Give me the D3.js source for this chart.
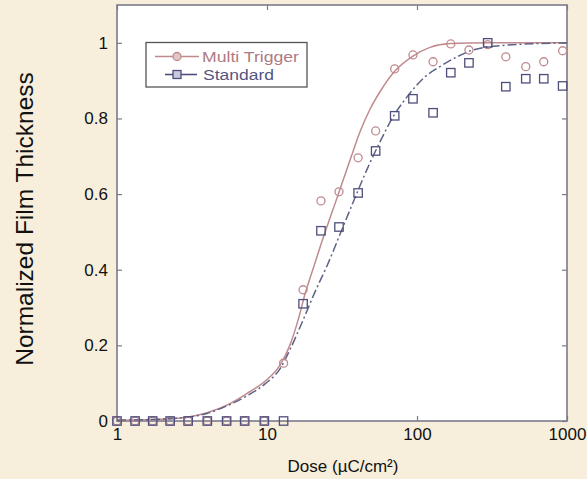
<!DOCTYPE html>
<html>
<head>
<meta charset="utf-8">
<script src="https://cdn.jsdelivr.net/npm/d3@7"></script>
<style>
  html, body { margin: 0; padding: 0; background: #f7efdc; }
  svg { display: block; }
  text { font-family: "Liberation Sans", Arial, Helvetica, sans-serif; }
</style>
</head>
<body>
<svg id="chart" width="587" height="479"></svg>
<script>
// ---- data ----
const doses = [1, 1.32, 1.73, 2.26, 2.98, 4.0, 5.38, 7.1, 9.6, 12.9, 17.4, 22.9, 30.2, 40.5, 53, 71, 94, 128, 168, 222, 296, 391, 531, 700, 935];
const multiTrigger = [0, 0, 0, 0, 0, 0, 0, 0, 0, 0.153, 0.347, 0.582, 0.606, 0.696, 0.767, 0.931, 0.968, 0.950, 0.997, 0.981, 0.995, 0.963, 0.937, 0.950, 0.979];
const standard = [0, 0, 0, 0, 0, 0, 0, 0, 0, 0, 0.310, 0.503, 0.513, 0.603, 0.714, 0.807, 0.852, 0.815, 0.921, 0.947, 1.0, 0.884, 0.905, 0.905, 0.886];

const multiFitDose = [1, 2.26, 3.98, 5.4, 7.3, 9.7, 12.3, 14.2, 16.2, 17.9, 20, 22.6, 29.3, 35.8, 41.7, 48.7, 56.5, 71, 94, 122, 166, 300, 1000];
const multiFitValue = [0.002, 0.006, 0.022, 0.042, 0.072, 0.105, 0.15, 0.2, 0.27, 0.335, 0.395, 0.46, 0.59, 0.69, 0.765, 0.825, 0.87, 0.925, 0.965, 0.988, 0.998, 1.0, 1.0];
const stdFitDose = [1, 2.26, 3.98, 5.4, 7.3, 9.7, 12.3, 14.2, 17.4, 21.2, 25.1, 32.1, 39.8, 48.6, 56.5, 69.2, 85.8, 113, 142, 185, 236, 374, 631, 1000];
const stdFitValue = [0.002, 0.006, 0.02, 0.04, 0.066, 0.098, 0.14, 0.188, 0.267, 0.347, 0.41, 0.513, 0.603, 0.683, 0.737, 0.804, 0.857, 0.91, 0.937, 0.963, 0.981, 0.993, 0.998, 1.0];

const xTicks = [1, 10, 100, 1000];
const xTickLabels = ["1", "10", "100", "1000"];
const yTicks = [0, 0.2, 0.4, 0.6, 0.8, 1];
const yTickLabels = ["0", "0.2", "0.4", "0.6", "0.8", "1"];
const seriesNames = ["Multi Trigger", "Standard"];

// ---- layout ----
const svg = d3.select("#chart");
const L = 117, R = 567, T = 5, B = 421;
const x = d3.scaleLog().domain([1, 1000]).range([L, R]);
const y = d3.scaleLinear().domain([0, 1.1]).range([B, T]);

const multiColor = "#c08a8e", multiText = "#b07a82";
const stdColor = "#4e4e7c", stdText = "#55557f";
const frameColor = "#7a7a8c";

// plot area
svg.append("rect").attr("x", L).attr("y", T).attr("width", R - L).attr("height", B - T)
  .attr("fill", "#ffffff");

// axes
const fontSize = 17;
const ax = svg.append("g").attr("transform", `translate(0,${B})`)
  .call(d3.axisBottom(x).tickValues(xTicks).tickFormat((d, i) => xTickLabels[i]).tickSizeInner(-5).tickSizeOuter(0).tickPadding(7));
const ay = svg.append("g").attr("transform", `translate(${L},0)`)
  .call(d3.axisLeft(y).tickValues(yTicks).tickFormat((d, i) => yTickLabels[i]).tickSizeInner(-5).tickSizeOuter(0).tickPadding(9));
const at = svg.append("g").attr("transform", `translate(0,${T})`)
  .call(d3.axisTop(x).tickValues(xTicks).tickFormat("").tickSizeInner(-5).tickSizeOuter(0));
const ar = svg.append("g").attr("transform", `translate(${R},0)`)
  .call(d3.axisRight(y).tickValues(yTicks).tickFormat("").tickSizeInner(-5).tickSizeOuter(0));
[ax, ay, at, ar].forEach(g => {
  g.select(".domain").remove();
  g.selectAll(".tick line").attr("stroke", frameColor).attr("stroke-width", 1.2);
  g.selectAll(".tick text").attr("fill", "#111").attr("font-size", fontSize)
    .style("font-family", '"Liberation Sans", Arial, sans-serif');
});

// frame
svg.append("rect").attr("x", L).attr("y", T).attr("width", R - L).attr("height", B - T)
  .attr("fill", "none").attr("stroke", frameColor).attr("stroke-width", 1.6);

// fit curves
const line = d3.line().x(d => x(d[0])).y(d => y(d[1])).curve(d3.curveMonotoneX);
svg.append("path").datum(multiFitDose.map((d, i) => [d, multiFitValue[i]]))
  .attr("d", line).attr("fill", "none").attr("stroke", multiColor).attr("stroke-width", 1.5);
svg.append("path").datum(stdFitDose.map((d, i) => [d, stdFitValue[i]]))
  .attr("d", line).attr("fill", "none").attr("stroke", "#5d6286").attr("stroke-width", 1.5)
  .attr("stroke-dasharray", "9,3,2,3");

// markers
const mData = doses.map((d, i) => [d, multiTrigger[i]]);
const sData = doses.map((d, i) => [d, standard[i]]);
svg.append("g").selectAll("circle").data(mData).join("circle")
  .attr("cx", d => x(d[0])).attr("cy", d => y(d[1])).attr("r", 4)
  .attr("fill", "none").attr("stroke", multiColor).attr("stroke-width", 1.3);
svg.append("g").selectAll("rect").data(sData).join("rect")
  .attr("x", d => x(d[0]) - 4.2).attr("y", d => y(d[1]) - 4.2).attr("width", 8.4).attr("height", 8.4)
  .attr("fill", "none").attr("stroke", stdColor).attr("stroke-width", 1.3);

// legend
const lg = svg.append("g");
lg.append("rect").attr("x", 146).attr("y", 42.5).attr("width", 161).attr("height", 44.5)
  .attr("fill", "#fff").attr("stroke", "#555").attr("stroke-width", 1.3);
lg.append("line").attr("x1", 155).attr("x2", 199).attr("y1", 56.5).attr("y2", 56.5)
  .attr("stroke", multiColor).attr("stroke-width", 1.6);
lg.append("circle").attr("cx", 177).attr("cy", 56.5).attr("r", 4)
  .attr("fill", "#e3c6c6").attr("stroke", multiColor).attr("stroke-width", 1.3);
lg.append("text").attr("x", 202).attr("y", 56.5).attr("dy", "0.36em").attr("font-size", 15.5)
  .attr("textLength", 97).attr("lengthAdjust", "spacingAndGlyphs")
  .attr("fill", multiText).text(seriesNames[0]);
lg.append("line").attr("x1", 165).attr("x2", 197).attr("y1", 74.5).attr("y2", 74.5)
  .attr("stroke", stdColor).attr("stroke-width", 1.6);
lg.append("rect").attr("x", 173).attr("y", 70.5).attr("width", 8).attr("height", 8)
  .attr("fill", "#c8c8dc").attr("stroke", stdColor).attr("stroke-width", 1.3);
lg.append("text").attr("x", 203).attr("y", 74.5).attr("dy", "0.36em").attr("font-size", 15.5)
  .attr("textLength", 71).attr("lengthAdjust", "spacingAndGlyphs")
  .attr("fill", stdText).text(seriesNames[1]);

// axis titles
svg.append("text").attr("x", 343).attr("y", 472).attr("text-anchor", "middle")
  .attr("font-size", 17).attr("fill", "#111").text("Dose (µC/cm²)");
svg.append("text").attr("transform", "translate(33,219) rotate(-90)").attr("text-anchor", "middle")
  .attr("font-size", 24.5).attr("fill", "#111").text("Normalized Film Thickness");
</script>
</body>
</html>
